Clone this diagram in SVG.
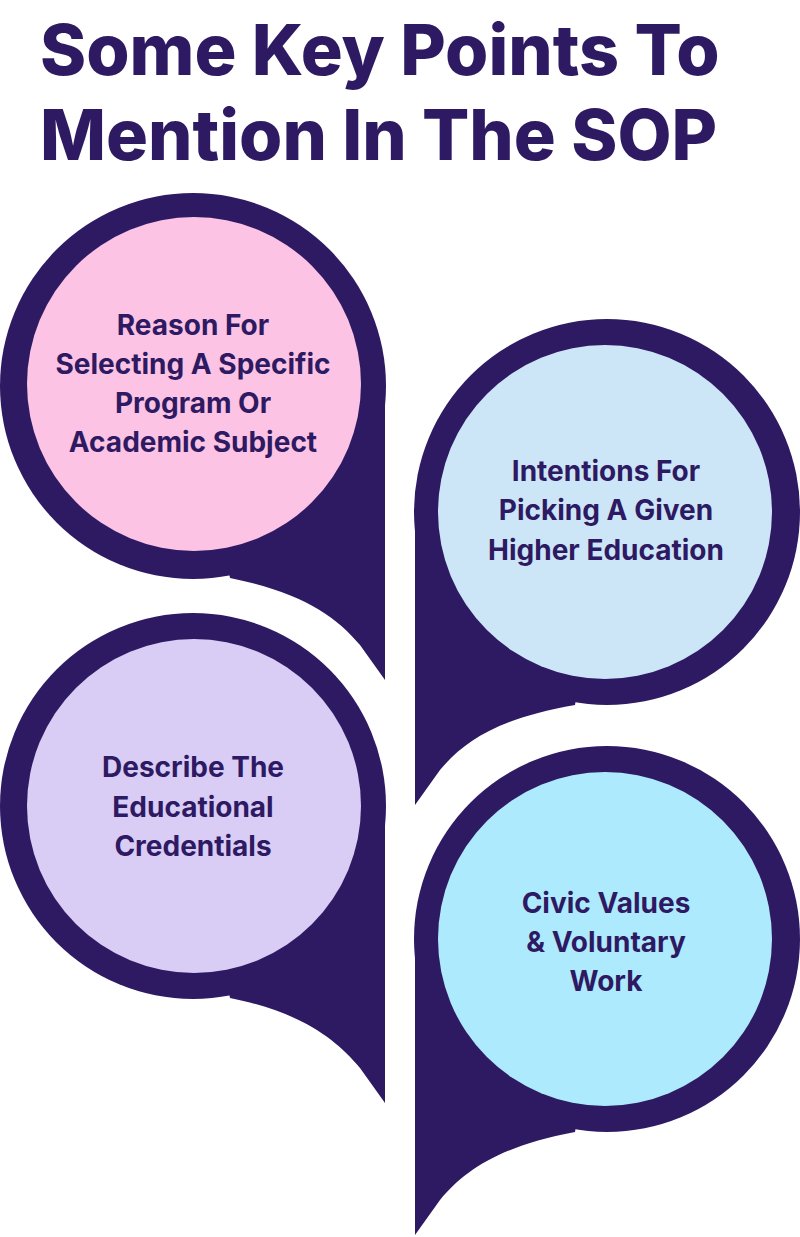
<svg xmlns="http://www.w3.org/2000/svg" width="800" height="1237" viewBox="0 0 800 1237">
<style>
.d{fill:#2e1a62}
.t{font-family:Inter,"Liberation Sans",sans-serif;font-weight:700;fill:#2e1a62;text-anchor:middle}
.h{font-size:70px;font-weight:800;text-anchor:start}
.l{font-size:28px}
</style>
<rect width="800" height="1237" fill="#fff"/>
<g id="title"><text class="t h" x="40" y="75">Some Key Points To</text><text class="t h" x="40" y="160">Mention In The SOP</text></g>
<g id="n1">
<path class="d" d="M193,386 L385,386 L385,680 L360,645 C335,615 300,592 230,578 Z"/>
<circle class="d" cx="193" cy="386" r="193"/>
<circle cx="194" cy="384" r="167" fill="#fcc3e4"/>
<text class="t l" x="193" y="335">Reason For</text><text class="t l" x="193" y="374">Selecting A Specific</text><text class="t l" x="193" y="413">Program Or</text><text class="t l" x="193" y="452">Academic Subject</text>
</g>
<g id="n2">
<path class="d" d="M607,512 L415,512 L415,805 L440,770 C465,740 500,718 575,705 Z"/>
<circle class="d" cx="607" cy="512" r="193"/>
<circle cx="605" cy="512" r="167" fill="#cce6f8"/>
<text class="t l" x="606" y="481">Intentions For</text><text class="t l" x="606" y="520">Picking A Given</text><text class="t l" x="606" y="560">Higher Education</text>
</g>
<g id="n3">
<path class="d" d="M193,806 L385,806 L385,1103 L360,1068 C335,1038 300,1012 230,998 Z"/>
<circle class="d" cx="193" cy="806" r="193"/>
<circle cx="194" cy="806" r="167" fill="#d9cdf6"/>
<text class="t l" x="193" y="777">Describe The</text><text class="t l" x="193" y="817">Educational</text><text class="t l" x="193" y="856">Credentials</text>
</g>
<g id="n4">
<path class="d" d="M607,939 L415,939 L415,1235 L440,1200 C465,1170 500,1146 575,1132 Z"/>
<circle class="d" cx="607" cy="939" r="193"/>
<circle cx="605" cy="939" r="167" fill="#aeeafd"/>
<text class="t l" x="606" y="913">Civic Values</text><text class="t l" x="606" y="952">&amp; Voluntary</text><text class="t l" x="606" y="991">Work</text>
</g>
<g id="connectors"/>
</svg>
